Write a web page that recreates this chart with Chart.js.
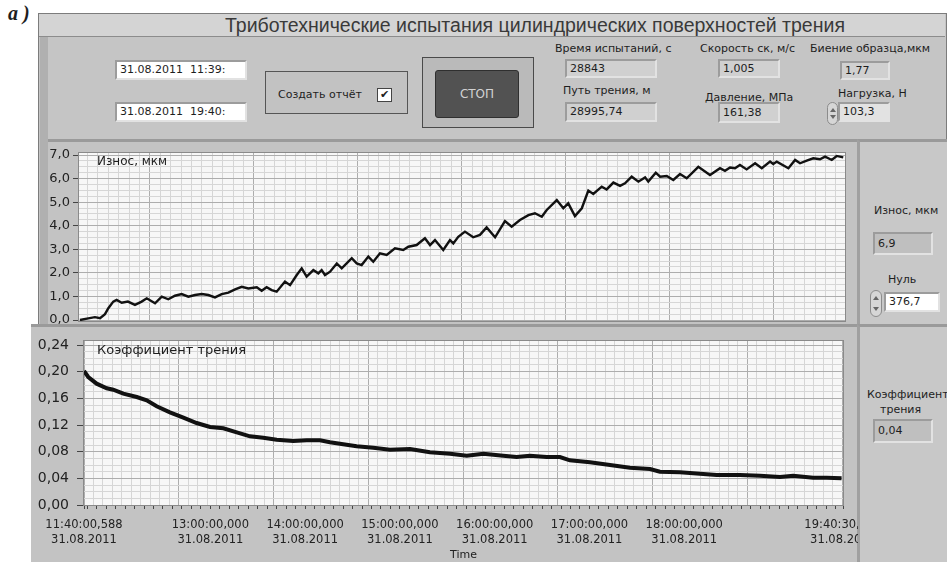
<!DOCTYPE html>
<html>
<head>
<meta charset="utf-8">
<script src="https://cdn.jsdelivr.net/npm/chart.js@4.4.0/dist/chart.umd.min.js"></script>
<style>
body { margin: 0; width: 947px; height: 562px; position: relative; overflow: hidden; background: #fff;
       font-family: "DejaVu Sans", sans-serif; font-size: 11px; color: #1e1e1e; }
.a { position: absolute; }
.lbl { position: absolute; white-space: pre; font-size: 11px; line-height: 14px; }
.box { position: absolute; box-sizing: border-box; border: 2px solid; border-color: #9c9c9c #e2e2e2 #e2e2e2 #9c9c9c;
       background: #d0d0d0; padding-left: 3px; white-space: pre; font-size: 11px; }
.white { background: #fff; }
.step { position: absolute; box-sizing: border-box; border: 1px solid #8c8c8c; border-radius: 6px; background: #d6d6d6; }
.step:before, .step:after { content: ""; position: absolute; left: 2px; border-left: 3px solid transparent; border-right: 3px solid transparent; }
.step:before { top: 5px; border-bottom: 4px solid #666; }
.step:after { bottom: 5px; border-top: 4px solid #666; }
canvas { position: absolute; }
</style>
</head>
<body>
<div class="a" style="left:8px;top:2px;font:italic bold 20px 'Liberation Serif',serif;">a )</div>

<!-- панель -->
<div class="a" style="left:38px;top:13px;width:907px;height:549px;background:#c5c5c5;border:1px solid #7c7c7c;border-bottom:none;"></div>
<div class="a" style="left:39px;top:14px;width:906px;height:22px;background:#d4d4d4;border-bottom:1px solid #8c8c8c;"></div>
<div class="a" style="left:225px;top:13px;font:19.5px 'Liberation Sans',sans-serif;line-height:24px;color:#3a3a3a;white-space:pre;">Триботехнические испытания цилиндрических поверхностей трения</div>
<div class="a" style="left:40px;top:37px;width:8px;height:288px;background:#b0b0b0;"></div>

<!-- даты -->
<div class="box white" style="left:115px;top:60px;width:132px;height:20px;line-height:16px;">31.08.2011  11:39:</div>
<div class="box white" style="left:115px;top:102px;width:132px;height:20px;line-height:16px;">31.08.2011  19:40:</div>

<!-- отчёт -->
<div class="a" style="left:265px;top:71px;width:141px;height:41px;border:1px solid #555;background:#c2c2c2;"></div>
<div class="lbl" style="left:278px;top:88px;">Создать отчёт</div>
<div class="a" style="left:377px;top:88px;width:13px;height:12px;background:#fff;border:1px solid #444;font:bold 11px 'DejaVu Sans';line-height:12px;text-align:center;">✔</div>

<!-- стоп -->
<div class="a" style="left:422px;top:57px;width:110px;height:69px;border:1px solid #4a4a4a;background:#bababa;"></div>
<div class="a" style="left:435px;top:70px;width:82px;height:46px;border:1px solid #2f2f2f;border-radius:3px;background:#525252;color:#d2d2d2;font-size:12px;line-height:46px;text-align:center;">СТОП</div>

<!-- индикаторы -->
<div class="lbl" style="left:555px;top:42px;">Время испытаний, с</div>
<div class="box" style="left:565px;top:59px;width:92px;height:19px;line-height:15px;">28843</div>
<div class="lbl" style="left:563px;top:84px;">Путь трения, м</div>
<div class="box" style="left:565px;top:102px;width:92px;height:20px;line-height:16px;">28995,74</div>

<div class="lbl" style="left:700px;top:42px;">Скорость ск, м/с</div>
<div class="box" style="left:718px;top:59px;width:62px;height:19px;line-height:15px;">1,005</div>
<div class="lbl" style="left:705px;top:91px;">Давление, МПа</div>
<div class="box" style="left:718px;top:102px;width:62px;height:21px;line-height:17px;">161,38</div>

<div class="lbl" style="left:810px;top:42px;">Биение образца,мкм</div>
<div class="box" style="left:840px;top:61px;width:50px;height:19px;line-height:15px;">1,77</div>
<div class="lbl" style="left:838px;top:87px;">Нагрузка, Н</div>
<div class="step" style="left:827px;top:102px;width:11px;height:23px;"></div>
<div class="box" style="left:838px;top:102px;width:52px;height:20px;line-height:16px;background:#e2e2e2;">103,3</div>

<!-- области графиков -->
<div class="a" style="left:48px;top:139px;width:809px;height:184px;background:#c3c3c3;border-top:3px solid #9a9a9a;"></div>
<div class="a" style="left:31px;top:324px;width:826px;height:235px;background:#c3c3c3;border-top:3px solid #9a9a9a;"></div>
<div class="a" style="left:857px;top:139px;width:87px;height:184px;background:#c8c8c8;border-top:3px solid #9a9a9a;border-left:3px solid #a0a0a0;"></div>
<div class="a" style="left:857px;top:324px;width:87px;height:235px;background:#c8c8c8;border-top:3px solid #9a9a9a;border-left:3px solid #a0a0a0;"></div>

<canvas id="wear" width="828" height="184" style="left:30px;top:142px;"></canvas>
<canvas id="friction" width="828" height="231" style="left:30px;top:331px;"></canvas>

<div class="a" style="left:97px;top:154px;font-size:12px;white-space:pre;">Износ, мкм</div>
<div class="a" style="left:97px;top:342px;font-size:13px;white-space:pre;">Коэффициент трения</div>

<!-- правые индикаторы -->
<div class="lbl" style="left:874px;top:204px;">Износ, мкм</div>
<div class="box" style="left:873px;top:232px;width:60px;height:23px;line-height:19px;background:#bfbfbf;">6,9</div>
<div class="lbl" style="left:888px;top:273px;">Нуль</div>
<div class="step" style="left:870px;top:290px;width:12px;height:27px;"></div>
<div class="box white" style="left:884px;top:292px;width:56px;height:20px;line-height:16px;">376,7</div>
<div class="lbl" style="left:867px;top:388px;">Коэффициент</div>
<div class="lbl" style="left:880px;top:403px;">трения</div>
<div class="box" style="left:873px;top:419px;width:60px;height:24px;line-height:20px;background:#bfbfbf;">0,04</div>

<script>
// время в минутах от 11:40:00,588
const wearTime = [
    0.6, 5.8, 10, 13.2, 16.3, 18.4, 21.5, 23.6, 26.8, 30.7,
    35.1, 39.3, 42.5, 47.7, 51.9, 56, 60.2, 64.4, 68.6, 72.8,
    77, 81.1, 85.3, 89.5, 93.7, 97.9, 102.1, 106.2, 111.5, 114.6,
    117.7, 120.9, 124, 129.2, 132.4, 136.6, 139.7, 142.8, 147, 150.1,
    152.2, 154.3, 157.5, 161.7, 164.8, 171.1, 174.2, 177.3, 181.5, 184.6,
    188.8, 193, 198.2, 203.4, 206.6, 211.8, 217, 220.2, 223.3, 228.5,
    232.7, 234.8, 237.9, 242.1, 247.3, 251.5, 255.7, 261, 267.2, 271.4,
    276.6, 281.9, 286, 290.3, 293.4, 299.7, 303.8, 306.9, 311.1, 315.4,
    319.5, 322.6, 327.9, 331, 335.2, 339.4, 342.5, 346.7, 350.9, 355.1,
    357.1, 361.8, 364.5, 368.7, 372.8, 377, 381.2, 388.5, 395.8, 402.1,
    405.2, 408.4, 411.5, 414.6, 418.8, 424.1, 428.3, 433.5, 435.5, 437.7,
    445, 449.2, 452.3, 456.5, 460.6, 464.8, 468, 472.2, 475.3, 479.4
];
const wearValue = [
    0.0, 0.07, 0.12, 0.08, 0.25, 0.5, 0.78, 0.85, 0.73, 0.78,
    0.64, 0.78, 0.92, 0.71, 0.99, 0.88, 1.03, 1.1, 0.99, 1.06,
    1.1, 1.06, 0.96, 1.1, 1.16, 1.3, 1.41, 1.34, 1.39, 1.24,
    1.39, 1.27, 1.2, 1.63, 1.48, 1.91, 2.19, 1.84, 2.12, 1.98,
    2.12, 1.91, 2.05, 2.4, 2.19, 2.62, 2.4, 2.33, 2.69, 2.47,
    2.83, 2.76, 3.04, 2.97, 3.11, 3.18, 3.47, 3.18, 3.39, 2.97,
    3.39, 3.25, 3.53, 3.75, 3.51, 3.61, 3.93, 3.51, 4.2, 3.96,
    4.24, 4.45, 4.53, 4.38, 4.67, 5.09, 4.74, 4.95, 4.41, 4.74,
    5.49, 5.35, 5.66, 5.54, 5.83, 5.69, 5.8, 6.08, 5.87, 6.05,
    5.87, 6.25, 6.08, 6.11, 5.94, 6.19, 6.01, 6.5, 6.15, 6.44,
    6.33, 6.47, 6.44, 6.58, 6.39, 6.65, 6.44, 6.72, 6.62, 6.72,
    6.44, 6.79, 6.65, 6.76, 6.86, 6.82, 6.93, 6.79, 6.96, 6.9
];
const frictionTime = [
    0, 2.7, 8, 14.4, 18.5, 24.9, 33.4, 39.7, 46, 54.4,
    62.9, 71.3, 79.8, 88.2, 96.7, 105.1, 113.5, 122, 132.5, 141,
    149.4, 155.7, 164.1, 172.6, 183.1, 193.7, 206.4, 219, 231.7, 242.3,
    252.8, 265.4, 273.9, 282.3, 292.9, 301.3, 307.6, 320.3, 333, 345.6,
    358.3, 364.6, 377.3, 389.9, 400.5, 415.2, 427.9, 440.6, 449, 461.6,
    470.1, 479.6
];
const frictionValue = [
    0.201, 0.192, 0.182, 0.175, 0.173, 0.167, 0.162, 0.157, 0.148, 0.139,
    0.131, 0.123, 0.117, 0.115, 0.109, 0.103, 0.101, 0.098, 0.096, 0.097,
    0.097, 0.094, 0.091, 0.088, 0.086, 0.083, 0.084, 0.079, 0.077, 0.074,
    0.077, 0.074, 0.072, 0.074, 0.072, 0.072, 0.067, 0.064, 0.060, 0.056,
    0.054, 0.050, 0.049, 0.047, 0.045, 0.045, 0.044, 0.042, 0.044, 0.041,
    0.041, 0.040
];

const wearTicks = [0, 1, 2, 3, 4, 5, 6, 7];
const frictionTicks = [0, 0.04, 0.08, 0.12, 0.16, 0.20, 0.24];
const timeTicks = [0, 80, 140, 200, 260, 320, 380, 480.5];
const timeLabels = ['11:40:00,588', '13:00:00,000', '14:00:00,000', '15:00:00,000',
    '16:00:00,000', '17:00:00,000', '18:00:00,000', '19:40:30,588'];
const dateLabel = '31.08.2011';
const xTitle = 'Time';
const endTime = 480.5;

const minorGrid = '#d6d6d6';
const majorGrid = '#adadad';

function noPad(s) {
    s.paddingLeft = 0; s.paddingRight = 0; s.paddingTop = 0; s.paddingBottom = 0;
}

// фон и рамка области графика
const plotFrame = {
    id: 'plotFrame',
    beforeDraw(chart) {
        const a = chart.chartArea, ctx = chart.ctx;
        ctx.save();
        ctx.fillStyle = '#f7f7f7';
        ctx.fillRect(a.left, a.top, a.width, a.height);
        ctx.restore();
    },
    afterDraw(chart) {
        const a = chart.chartArea, ctx = chart.ctx;
        ctx.save();
        ctx.strokeStyle = '#8a8a8a';
        ctx.lineWidth = 1;
        ctx.strokeRect(a.left - 0.5, a.top - 0.5, a.width + 1, a.height + 1);
        ctx.restore();
    }
};

// сетка: мелкие деления + крупные
function gridTicks(start, step, every, from, to) {
    const out = [];
    for (let k = -200; k < 400; k++) {
        const v = start + step * k;
        if (v < from - 1e-6 || v > to + 1e-6) continue;
        out.push({ value: v, major: k % every === 0 });
    }
    return out;
}

function yTicks(list, sub) {
    const out = [];
    for (let i = 0; i < list.length; i++) {
        out.push({ value: list[i], major: true });
        if (i < list.length - 1) {
            const d = (list[i + 1] - list[i]) / sub;
            for (let j = 1; j < sub; j++) out.push({ value: list[i] + d * j, major: false });
        }
    }
    return out;
}

const gridColor = ctx => (ctx.tick && ctx.tick.major ? majorGrid : minorGrid);

// Износ
new Chart(document.getElementById('wear'), {
    type: 'line',
    data: {
        datasets: [{
            data: wearTime.map((t, i) => ({ x: t, y: wearValue[i] })),
            borderColor: '#111',
            borderWidth: 2.4,
            pointRadius: 0,
            tension: 0
        }]
    },
    options: {
        responsive: false,
        animation: false,
        layout: { padding: { left: 0, top: 11, right: 13, bottom: 5 } },
        plugins: { legend: { display: false }, tooltip: { enabled: false } },
        scales: {
            x: {
                type: 'linear', min: 0, max: endTime,
                afterBuildTicks: s => { s.ticks = gridTicks(44.5, 6.52, 10, 0, endTime); },
                afterFit: s => { s.height = 0; noPad(s); },
                ticks: { display: false, autoSkip: false },
                grid: { color: gridColor, drawTicks: false },
                border: { display: false }
            },
            y: {
                min: -0.042, max: 7.085,
                afterBuildTicks: s => { s.ticks = yTicks(wearTicks, 4); },
                afterFit: s => { s.width = 49; noPad(s); },
                ticks: {
                    autoSkip: false, padding: 3, color: '#222',
                    font: { family: 'DejaVu Sans', size: 13 },
                    callback: (v, i, t) => t[i].major ? v.toFixed(1).replace('.', ',') : ''
                },
                grid: {
                    color: gridColor, tickLength: 6,
                    tickColor: ctx => (ctx.tick && ctx.tick.major ? '#444' : 'transparent')
                },
                border: { display: false }
            }
        }
    },
    plugins: [plotFrame]
});

// Коэффициент трения
new Chart(document.getElementById('friction'), {
    type: 'line',
    data: {
        datasets: [{
            data: frictionTime.map((t, i) => ({ x: t, y: frictionValue[i] })),
            borderColor: '#111',
            borderWidth: 4,
            pointRadius: 0,
            tension: 0
        }]
    },
    options: {
        responsive: false,
        animation: false,
        layout: { padding: { left: 0, top: 10, right: 15, bottom: 0 } },
        plugins: { legend: { display: false }, tooltip: { enabled: false } },
        scales: {
            x: {
                type: 'linear', min: 0, max: endTime,
                afterBuildTicks: s => {
                    const t = gridTicks(2, 6, 10000, 0, endTime).map(o => ({ value: o.value }));
                    t.unshift({ value: 0 });
                    t.push({ value: endTime });
                    s.ticks = t;
                },
                afterFit: s => { s.height = 57; noPad(s); },
                ticks: {
                    autoSkip: false, maxRotation: 0, padding: 9, color: '#222',
                    font: { family: 'DejaVu Sans', size: 11.5, lineHeight: 1.3 },
                    callback: v => {
                        const i = timeTicks.indexOf(v);
                        return i >= 0 ? [timeLabels[i], dateLabel] : '';
                    }
                },
                grid: { drawOnChartArea: false, tickLength: 4, tickColor: '#444' },
                border: { display: false },
                title: {
                    display: true, text: xTitle, color: '#222',
                    font: { family: 'DejaVu Sans', size: 11 }, padding: { top: 0, bottom: 0 }
                }
            },
            xg: {
                type: 'linear', position: 'top', min: 0, max: endTime,
                afterBuildTicks: s => { s.ticks = gridTicks(0, 6, 10, 0, endTime); },
                afterFit: s => { s.height = 0; noPad(s); },
                ticks: { display: false, autoSkip: false },
                grid: { color: gridColor, drawTicks: false },
                border: { display: false }
            },
            y: {
                min: 0, max: 0.246,
                afterBuildTicks: s => { s.ticks = yTicks(frictionTicks, 4); },
                afterFit: s => { s.width = 54; noPad(s); },
                ticks: {
                    autoSkip: false, padding: 8, color: '#222',
                    font: { family: 'DejaVu Sans', size: 14 },
                    callback: (v, i, t) => t[i].major ? v.toFixed(2).replace('.', ',') : ''
                },
                grid: {
                    color: gridColor, tickLength: 7,
                    tickColor: ctx => (ctx.tick && ctx.tick.major ? '#444' : 'transparent')
                },
                border: { display: false }
            }
        }
    },
    plugins: [plotFrame]
});
</script>
</body>
</html>
